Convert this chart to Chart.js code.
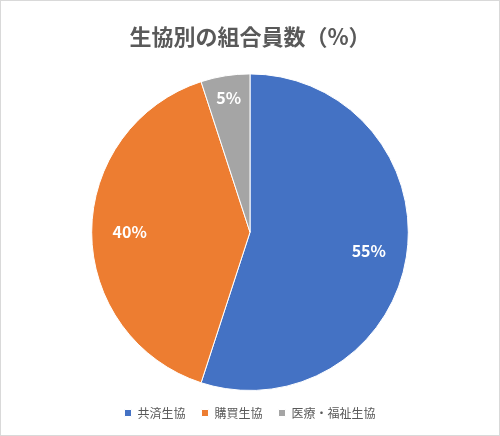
<!DOCTYPE html>
<html>
<head>
<meta charset="utf-8">
<script src="https://cdn.jsdelivr.net/npm/chart.js@4/dist/chart.umd.min.js"></script>
<style>
  body { margin: 0; background: #fff; }
  #wrap { width: 498px; height: 434px; border: 1px solid #d9d9d9; }
</style>
</head>
<body>
<div id="wrap"><canvas id="c" width="498" height="434"></canvas></div>
<script>
// Data
const categories = ["共済生協", "購買生協", "医療・福祉生協"];
const shares = [55, 40, 5];
const sliceColors = ["#4472c4", "#ed7d31", "#a5a5a5"];

const fontFamily = "'Noto Sans CJK JP', 'Noto Sans', sans-serif";

// Draw the percentage labels inside each slice
const sliceLabels = {
  id: "sliceLabels",
  afterDatasetsDraw(chart) {
    const { ctx } = chart;
    const meta = chart.getDatasetMeta(0);
    ctx.save();
    ctx.font = "bold 16px " + fontFamily;
    ctx.fillStyle = "white";
    ctx.textAlign = "center";
    ctx.textBaseline = "middle";
    meta.data.forEach((arc, i) => {
      const { x, y, startAngle, endAngle, outerRadius } = arc.getProps(
        ["x", "y", "startAngle", "endAngle", "outerRadius"], true);
      const mid = (startAngle + endAngle) / 2;
      const r = i === 2 ? outerRadius * 0.86 : outerRadius * 0.76;
      ctx.fillText(shares[i] + "%", x + Math.cos(mid) * r, y + Math.sin(mid) * r);
    });
    ctx.restore();
  },
};

new Chart(document.getElementById("c"), {
  type: "pie",
  data: {
    labels: categories,
    datasets: [{
      data: shares,
      backgroundColor: sliceColors,
      borderColor: "#ffffff",
      borderWidth: 1,
    }],
  },
  options: {
    responsive: false,
    animation: false,
    layout: { padding: { top: 0, bottom: 6 } },
    plugins: {
      title: {
        display: true,
        text: "生協別の組合員数（%）",
        color: "#595959",
        font: { family: fontFamily, size: 22, weight: "bold" },
        padding: { top: 22, bottom: 24 },
      },
      legend: {
        position: "bottom",
        labels: {
          boxWidth: 7,
          boxHeight: 7,
          color: "#595959",
          font: { family: fontFamily, size: 12 },
          padding: 16,
        },
      },
      tooltip: { enabled: false },
    },
  },
  plugins: [sliceLabels],
});
</script>
</body>
</html>
